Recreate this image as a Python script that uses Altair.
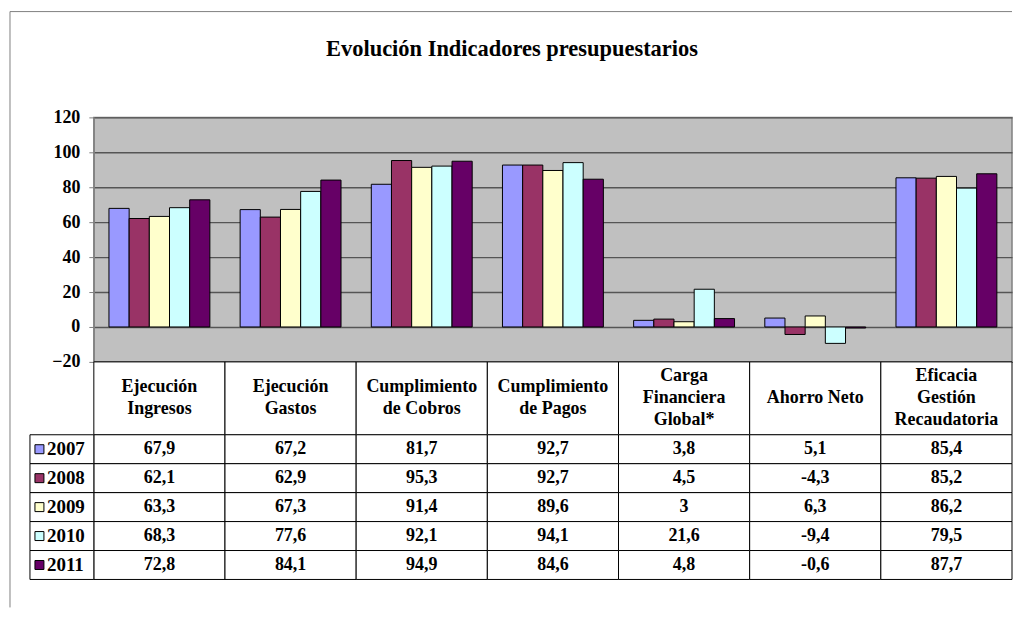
import altair as alt
import pandas as pd

# ---------------- data ----------------
title_text = "Evolución Indicadores presupuestarios"
categories = [
    "Ejecución\nIngresos",
    "Ejecución\nGastos",
    "Cumplimiento\nde Cobros",
    "Cumplimiento\nde Pagos",
    "Carga\nFinanciera\nGlobal*",
    "Ahorro Neto",
    "Eficacia\nGestión\nRecaudatoria",
]
years = ["2007", "2008", "2009", "2010", "2011"]
v2007 = [67.9, 67.2, 81.7, 92.7, 3.8, 5.1, 85.4]
v2008 = [62.1, 62.9, 95.3, 92.7, 4.5, -4.3, 85.2]
v2009 = [63.3, 67.3, 91.4, 89.6, 3.0, 6.3, 86.2]
v2010 = [68.3, 77.6, 92.1, 94.1, 21.6, -9.4, 79.5]
v2011 = [72.8, 84.1, 94.9, 84.6, 4.8, -0.6, 87.7]
y_ticks = [-20, 0, 20, 40, 60, 80, 100, 120]
colors = ["#9999FF", "#993366", "#FFFFCC", "#CCFFFF", "#660066"]

series = [v2007, v2008, v2009, v2010, v2011]
rows = []
for yr, vals in zip(years, series):
    for cat, v in zip(categories, vals):
        rows.append({"cat": cat, "year": yr, "value": v,
                     "label": f"{v:g}".replace(".", ",")})
df = pd.DataFrame(rows)
df_cat = pd.DataFrame({"cat": categories})
df_year = pd.DataFrame({"year": years})
df_title = pd.DataFrame({"t": [title_text]})

# one row per header text line, with the line's place relative to the block centre
head_lines = []
for cat in categories:
    parts = cat.split("\n")
    n = len(parts)
    for i, p in enumerate(parts):
        head_lines.append({"cat": cat, "line": p, "pos": i - (n - 1) / 2})
df_head = pd.DataFrame(head_lines)

FONT = "Liberation Serif"
W = 920
HEAD_H = 73
LINE_H = 22

xscale = alt.Scale(domain=categories, paddingInner=0, paddingOuter=0)
color_scale = alt.Scale(domain=years, range=colors)

# ---------------- bar panel ----------------
bars = alt.Chart(df).mark_bar(stroke="black", strokeWidth=1).encode(
    x=alt.X("cat:N", scale=xscale, axis=None, sort=categories),
    xOffset=alt.XOffset("year:N", scale=alt.Scale(domain=years, paddingInner=0, paddingOuter=0.75)),
    y=alt.Y("value:Q",
            scale=alt.Scale(domain=[-20, 120], nice=False, zero=False),
            axis=alt.Axis(values=y_ticks, title=None, grid=True, gridColor="#555555",
                          gridWidth=1.4, domainColor="#808080", tickColor="#808080",
                          tickSize=5, labelPadding=9, labelFont=FONT, labelFontSize=18,
                          labelFontWeight="bold", labelColor="black", format="d")),
    color=alt.Color("year:N", scale=color_scale, legend=None),
)

frame_left = alt.Chart(df_title).mark_rule(color="#808080", strokeWidth=1).encode(
    x=alt.value(-84), y=alt.value(-106), y2=alt.value(491))
frame_top = alt.Chart(df_title).mark_rule(color="#808080", strokeWidth=1).encode(
    x=alt.value(-84), x2=alt.value(W), y=alt.value(-106))
title = alt.Chart(df_title).mark_text(font=FONT, fontSize=22.5, fontWeight="bold",
                                      color="black", align="center", baseline="middle").encode(
    text="t:N", x=alt.value(419), y=alt.value(-69))

bar_panel = alt.layer(bars, frame_left, frame_top, title).properties(
    width=W, height=245,
    view=alt.ViewBackground(fill="#C0C0C0", stroke="#808080", strokeWidth=1.5),
)

# ---------------- header row ----------------
half = HEAD_H / 2 / LINE_H
head_rect = alt.Chart(df_cat).mark_rect(fill="white", stroke="black", strokeWidth=1).encode(
    x=alt.X("cat:N", scale=xscale, axis=None, sort=categories))
head_text = alt.Chart(df_head).mark_text(font=FONT, fontSize=18, fontWeight="bold", color="black",
                                         baseline="middle").encode(
    x=alt.X("cat:N", scale=xscale, axis=None, sort=categories),
    y=alt.Y("pos:Q", scale=alt.Scale(domain=[-half, half], reverse=True, nice=False, zero=False),
            axis=None),
    text="line:N")
header_panel = alt.layer(head_rect, head_text).properties(
    width=W, height=HEAD_H, view=alt.ViewBackground(fill="white", stroke=None))

# ---------------- data rows ----------------
yscale = alt.Scale(domain=years, paddingInner=0, paddingOuter=0)
cell_rect = alt.Chart(df).mark_rect(fill="white", stroke="black", strokeWidth=1).encode(
    x=alt.X("cat:N", scale=xscale, axis=None, sort=categories),
    y=alt.Y("year:N", scale=yscale, axis=None))
cell_text = alt.Chart(df).mark_text(font=FONT, fontSize=18, fontWeight="bold", color="black",
                                    baseline="middle").encode(
    x=alt.X("cat:N", scale=xscale, axis=None, sort=categories),
    y=alt.Y("year:N", scale=yscale, axis=None),
    text="label:N")
leg_rect = alt.Chart(df_year).mark_rect(fill="white", stroke="black", strokeWidth=1).encode(
    x=alt.value(-64), x2=alt.value(0),
    y=alt.Y("year:N", scale=yscale, axis=None))
leg_swatch = alt.Chart(df_year).mark_square(size=81, opacity=1, stroke="black", strokeWidth=1).encode(
    x=alt.value(-54.5),
    y=alt.Y("year:N", scale=yscale, axis=None),
    fill=alt.Fill("year:N", scale=color_scale, legend=None))
leg_text = alt.Chart(df_year).mark_text(font=FONT, fontSize=19, fontWeight="bold", color="black",
                                        align="left", baseline="middle").encode(
    x=alt.value(-47),
    y=alt.Y("year:N", scale=yscale, axis=None),
    text="year:N")
rows_panel = alt.layer(cell_rect, cell_text, leg_rect, leg_swatch, leg_text).properties(
    width=W, height=145, view=alt.ViewBackground(fill="white", stroke=None))

chart = alt.vconcat(bar_panel, header_panel, rows_panel, spacing=0, bounds="flush").properties(
    padding={"left": 0, "top": 1, "right": 0, "bottom": 0}
).configure(background="white").configure_view(stroke=None)

chart.save("out.html", embed_options={"renderer": "svg", "actions": False})
